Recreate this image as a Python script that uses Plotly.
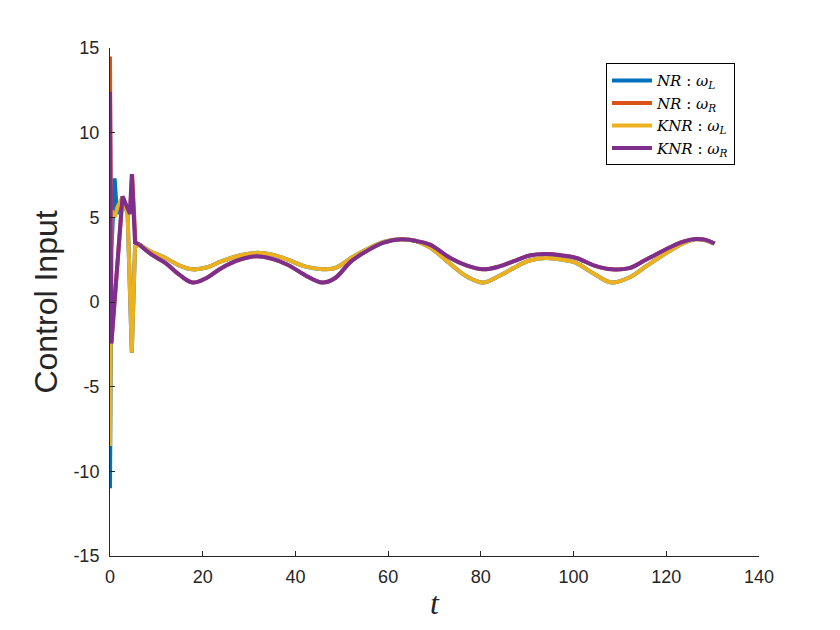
import plotly.graph_objects as go

###############################################################################
#                     Datos                               #
###############################################################################

# transitorio inicial (tramos rectos)
t_tr_nr_wl = [0, 0.3, 1.0, 1.5, 2.7, 3.8, 4.7, 5.4, 6.3]
nr_wl_tr = [-11.0, 3.0, 7.3, 5.2, 6.2, 5.2, -3.0, 3.25, 3.45]

t_tr_nr_wr = [0, 0.3, 2.7, 4.3, 4.8, 5.5, 6.3]
nr_wr_tr = [14.5, -2.4, 6.2, 5.2, 7.5, 3.5, 3.4]

t_tr_knr_wl = [0, 0.3, 1.0, 1.6, 2.7, 3.8, 4.7, 5.4, 6.3]
knr_wl_tr = [-8.5, 5.4, 5.0, 5.6, 6.2, 5.2, -3.0, 3.25, 3.4]

t_tr_knr_wr = [0, 0.3, 2.7, 4.3, 4.7, 5.4, 6.3]
knr_wr_tr = [12.4, -2.45, 6.24, 5.2, 7.55, 3.5, 3.4]

# regimen permanente
t_ss = [6.3, 9, 12, 15, 17.8, 21, 24, 28, 31.5, 35, 38.3, 42, 45.8, 48.5,
        52, 55, 59, 62.8, 66, 69, 73.4, 77, 80.5, 84, 87, 90.5, 94, 97.5,
        100.6, 104.5, 108.2, 112, 115.6, 120.6, 123.5, 126.3, 128.5, 130.4]

wl_ss = [3.40, 2.95, 2.6, 2.15, 1.93, 2.05, 2.4, 2.75, 2.9, 2.8, 2.5, 2.1,
         1.93, 2.0, 2.6, 3.05, 3.55, 3.7, 3.6, 3.23, 2.25, 1.5, 1.15, 1.55,
         2.0, 2.45, 2.6, 2.5, 2.3, 1.65, 1.15, 1.45, 2.1, 3.0, 3.45, 3.7,
         3.65, 3.45]

wr_ss = [3.40, 2.8, 2.3, 1.6, 1.15, 1.45, 2.0, 2.5, 2.7, 2.55, 2.2, 1.6,
         1.15, 1.4, 2.4, 2.95, 3.5, 3.7, 3.6, 3.39, 2.6, 2.15, 1.93, 2.1,
         2.4, 2.75, 2.84, 2.75, 2.6, 2.15, 1.93, 2.0, 2.5, 3.2, 3.55, 3.72,
         3.67, 3.45]

# etiquetas de ejes (guion normal como en MATLAB)
x_ticks = [0, 20, 40, 60, 80, 100, 120, 140]
y_ticks = [-15, -10, -5, 0, 5, 10, 15]
y_ticktext = ["-15", "-10", "-5", "0", "5", "10", "15"]

names = ["<i>NR</i>&nbsp;:&nbsp;<i>ω</i><sub><i>L</i></sub>",
         "<i>NR</i>&nbsp;:&nbsp;<i>ω</i><sub><i>R</i></sub>",
         "<i>KNR</i>&nbsp;:&nbsp;<i>ω</i><sub><i>L</i></sub>",
         "<i>KNR</i>&nbsp;:&nbsp;<i>ω</i><sub><i>R</i></sub>"]
colors = ["#0072BD", "#D95319", "#EDB120", "#7E2F8E"]

series = [
    (t_tr_nr_wl, nr_wl_tr, wl_ss),
    (t_tr_nr_wr, nr_wr_tr, wr_ss),
    (t_tr_knr_wl, knr_wl_tr, wl_ss),
    (t_tr_knr_wr, knr_wr_tr, wr_ss),
]

###############################################################################
#                              Figura                                         #
###############################################################################

fig = go.Figure()
for i, (t_tr, y_tr, y_ss) in enumerate(series):
    fig.add_trace(go.Scatter(x=t_tr, y=y_tr, mode="lines", name=names[i],
                             legendgroup=str(i), showlegend=True,
                             line=dict(color=colors[i], width=4)))
    fig.add_trace(go.Scatter(x=t_ss, y=y_ss, mode="lines", name=names[i],
                             legendgroup=str(i), showlegend=False,
                             line=dict(color=colors[i], width=4,
                                       shape="spline", smoothing=1)))

axis_col = "#262626"
fig.update_layout(
    width=840, height=630,
    margin=dict(l=102, r=89, t=40, b=82),
    paper_bgcolor="white", plot_bgcolor="white",
    font=dict(family="Liberation Sans, Arial", size=18, color=axis_col),
    xaxis=dict(range=[0, 140], tickvals=x_ticks, showline=True,
               linecolor=axis_col, linewidth=1, ticks="inside", ticklen=5,
               tickcolor=axis_col, showgrid=False, zeroline=False,
               ticklabelstandoff=4,
               title=dict(text="<i>t</i>", standoff=6,
                          font=dict(family="Liberation Serif", size=32))),
    yaxis=dict(range=[-15, 15], tickvals=y_ticks, ticktext=y_ticktext,
               showline=True, linecolor=axis_col, linewidth=1,
               ticks="inside", ticklen=5, tickcolor=axis_col,
               showgrid=False, zeroline=False, ticklabelstandoff=6,
               title=dict(text="Control Input", standoff=6,
                          font=dict(family="Liberation Sans, Arial", size=32))),
    legend=dict(x=0.963, y=0.97, xanchor="right", yanchor="top",
                bgcolor="white", bordercolor="black", borderwidth=1,
                font=dict(family="DejaVu Serif", size=15, color="black"),
                tracegroupgap=0, itemwidth=40),
)

fig.write_html("out.html")
